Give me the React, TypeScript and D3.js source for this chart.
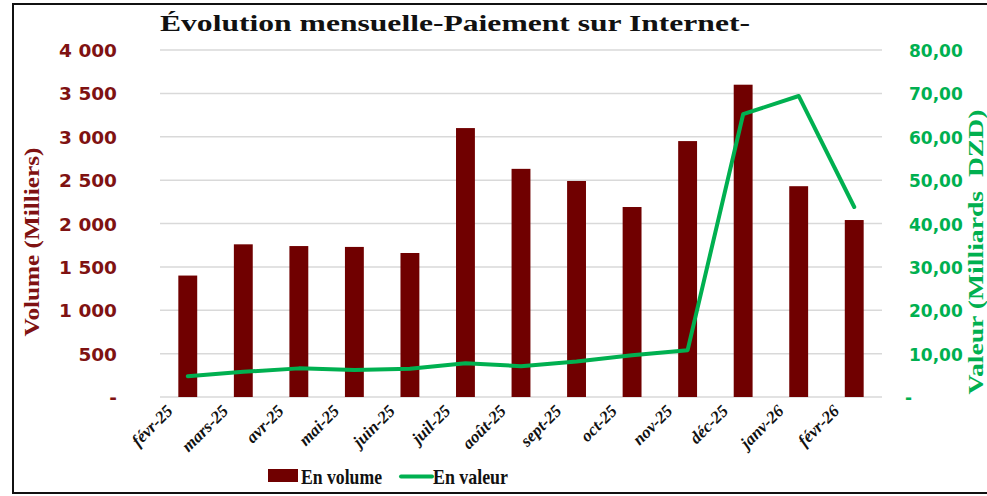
import * as d3 from 'd3';

const months = ['févr-25', 'mars-25', 'avr-25', 'mai-25', 'juin-25', 'juil-25', 'août-25', 'sept-25', 'oct-25', 'nov-25', 'déc-25', 'janv-26', 'févr-26'];
const volume = [1400, 1760, 1740, 1730, 1660, 3100, 2630, 2490, 2190, 2950, 3600, 2430, 2040];
const valeur = [4.8, 5.8, 6.6, 6.2, 6.5, 7.8, 7.1, 8.2, 9.6, 10.8, 65.2, 69.4, 43.8];
const leftTicks = [0, 500, 1000, 1500, 2000, 2500, 3000, 3500, 4000];
const rightTicks = [0, 10, 20, 30, 40, 50, 60, 70, 80];

const W = 987;
const H = 496;
const plot = { left: 160, right: 882, top: 50, bottom: 397 };

const barColor = '#700000';
const tickRed = '#7f1212';
const green = '#00b050';
const serif = "'Liberation Serif', serif";

const fmtLeft = (v: number) => (v === 0 ? '-' : d3.format(',')(v).replace(/,/g, ' '));
const fmtRight = (v: number) => (v === 0 ? '-' : v.toFixed(2).replace('.', ','));

export default function App() {
    const x = d3.scaleBand<string>().domain(months).range([plot.left, plot.right]).paddingInner(0.66).paddingOuter(0.33);
    const yL = d3.scaleLinear().domain([0, 4000]).range([plot.bottom, plot.top]);
    const yR = d3.scaleLinear().domain([0, 80]).range([plot.bottom, plot.top]);
    const cx = (m: string) => x(m)! + x.bandwidth() / 2;

    const line = d3.line<number>()
        .x((_, i) => cx(months[i]))
        .y((d) => yR(d));

    return (
        <svg width={W} height={H} style={{ position: 'absolute', left: 0, top: 0, background: '#fff' }}>
            <rect x={13} y={4} width={990} height={489} fill="#fff" stroke="#111" strokeWidth={2} />
            <text x={160} y={31} fontFamily={serif} fontWeight="bold" fontSize={23} textLength={590} lengthAdjust="spacingAndGlyphs" fill="#111">Évolution mensuelle-Paiement sur Internet-</text>

            {leftTicks.map((t) => (
                <line key={'g' + t} x1={plot.left} x2={plot.right} y1={yL(t)} y2={yL(t)} stroke="#d9d9d9" strokeWidth={1.5} />
            ))}

            {leftTicks.map((t) => (
                <text key={'l' + t} x={117} y={yL(t) + 7} textAnchor="end" fontFamily="DejaVu Sans" fontWeight="bold" fontSize={18.5} fill={tickRed}>{fmtLeft(t)}</text>
            ))}
            {rightTicks.map((t) => (
                <text key={'r' + t} x={t === 0 ? 905 : 909} y={yR(t) + 7} fontFamily="DejaVu Sans" fontWeight="bold" fontSize={17} fill={green}>{fmtRight(t)}</text>
            ))}

            <text transform={`translate(39,242) rotate(-90)`} textAnchor="middle" fontFamily={serif} fontWeight="bold" fontSize={20} textLength={189} lengthAdjust="spacingAndGlyphs" fill={tickRed}>Volume (Milliers)</text>
            <text transform={`translate(983,252) rotate(-90)`} textAnchor="middle" fontFamily={serif} fontWeight="bold" fontSize={20} textLength={285} lengthAdjust="spacingAndGlyphs" fill={green} style={{ whiteSpace: 'pre' }}>Valeur (Milliards  DZD)</text>

            {volume.map((v, i) => (
                <rect key={months[i]} x={x(months[i])} y={yL(v)} width={x.bandwidth()} height={yL(0) - yL(v)} fill={barColor} />
            ))}

            <path d={line(valeur) ?? ''} fill="none" stroke={green} strokeWidth={4} strokeLinejoin="round" strokeLinecap="round" />

            {months.map((m) => (
                <text key={'x' + m} transform={`translate(${cx(m) - 14},412) rotate(-45)`} textAnchor="end" fontFamily={serif} fontStyle="italic" fontWeight="bold" fontSize={17} fill="#111">{m}</text>
            ))}

            <rect x={268} y={469} width={30} height={13} fill={barColor} />
            <text x={301} y={484} fontFamily={serif} fontWeight="bold" fontSize={21} textLength={81} lengthAdjust="spacingAndGlyphs" fill="#111">En volume</text>
            <line x1={401} x2={432} y1={476.5} y2={476.5} stroke={green} strokeWidth={4} strokeLinecap="round" />
            <text x={433} y={484} fontFamily={serif} fontWeight="bold" fontSize={21} textLength={75} lengthAdjust="spacingAndGlyphs" fill="#111">En valeur</text>
        </svg>
    );
}
